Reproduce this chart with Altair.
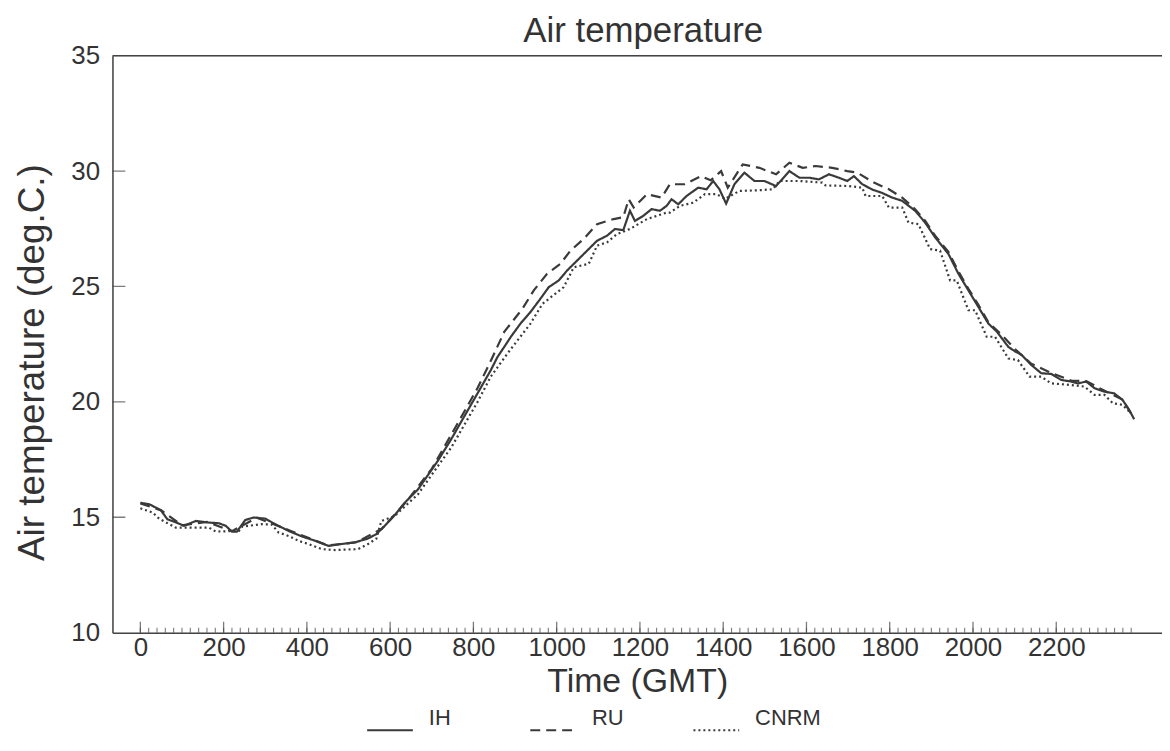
import altair as alt
import pandas as pd

series_names = ["IH", "RU", "CNRM"]

ih_time = [0, 22, 49, 65, 81, 105, 133, 165, 189, 205, 220, 232, 252, 272, 300, 324, 356, 388, 420, 452,
           483, 515, 547, 567, 587, 611, 635, 667, 714, 746, 778, 810, 842, 858, 874, 890, 913, 937, 961, 981,
           1005, 1025, 1049, 1073, 1097, 1121, 1140, 1160, 1176, 1188, 1208, 1228, 1248, 1264, 1276, 1292, 1312,
           1340, 1360, 1376, 1391, 1407, 1427, 1451, 1475, 1499, 1527, 1559, 1583, 1607, 1630, 1654, 1678, 1698,
           1714, 1734, 1758, 1782, 1806, 1830, 1861, 1885, 1909, 1941, 1965, 1989, 2013, 2037, 2057, 2085, 2100,
           2117, 2140, 2164, 2188, 2212, 2236, 2252, 2272, 2292, 2316, 2339, 2359, 2375, 2387]
ih_temp = [15.63, 15.56, 15.31, 14.91, 14.81, 14.63, 14.84, 14.77, 14.74, 14.63, 14.38, 14.38, 14.88, 14.99,
           14.94, 14.70, 14.41, 14.17, 13.98, 13.76, 13.84, 13.91, 14.08, 14.27, 14.63, 15.09, 15.63, 16.21,
           17.43, 18.36, 19.37, 20.37, 21.38, 21.95, 22.38, 22.82, 23.39, 23.89, 24.47, 24.97, 25.26, 25.69,
           26.12, 26.55, 26.98, 27.20, 27.49, 27.44, 28.28, 27.84, 28.06, 28.35, 28.28, 28.49, 28.78, 28.56,
           28.92, 29.28, 29.21, 29.57, 29.21, 28.59, 29.43, 29.93, 29.57, 29.57, 29.35, 30.00, 29.71, 29.71,
           29.64, 29.86, 29.71, 29.57, 29.78, 29.43, 29.20, 29.05, 28.85, 28.71, 28.28, 27.77, 27.13, 26.41,
           25.55, 24.83, 24.11, 23.39, 23.05, 22.38, 22.20, 22.03, 21.60, 21.24, 21.21, 20.95, 20.88, 20.80,
           20.88, 20.59, 20.44, 20.37, 20.09, 19.66, 19.25]

ru_time = [0, 50, 100, 160, 220, 280, 360, 450, 520, 580, 640, 700, 760, 810, 845, 874, 918, 945, 977, 1009,
           1033, 1065, 1097, 1137, 1160, 1173, 1185, 1217, 1252, 1272, 1308, 1347, 1370, 1395, 1411, 1447, 1487,
           1527, 1559, 1591, 1622, 1662, 1698, 1722, 1762, 1798, 1830, 1861, 1885, 1909, 1941, 1965, 1989, 2013,
           2037, 2069, 2100, 2140, 2188, 2236, 2272, 2316, 2359, 2387]
ru_temp = [15.60, 15.30, 14.65, 14.80, 14.40, 14.98, 14.42, 13.78, 13.92, 14.50, 15.70, 17.10, 19.00, 20.60,
           21.90, 23.03, 24.04, 24.83, 25.55, 25.98, 26.55, 27.06, 27.70, 27.92, 28.00, 28.78, 28.42, 29.00,
           28.85, 29.43, 29.43, 29.78, 29.60, 30.00, 29.28, 30.29, 30.14, 29.86, 30.36, 30.14, 30.22, 30.14,
           30.00, 29.93, 29.50, 29.21, 28.85, 28.35, 27.85, 27.20, 26.50, 25.65, 24.90, 24.20, 23.45, 22.90,
           22.30, 21.65, 21.25, 20.92, 20.90, 20.48, 20.10, 19.28]

cnrm_time = [0, 30, 45, 85, 133, 165, 181, 237, 245, 292, 316, 332, 356, 380, 404, 436, 468, 523, 547, 567,
             579, 611, 667, 714, 746, 778, 810, 842, 882, 937, 966, 1017, 1041, 1077, 1097, 1121, 1145, 1176,
             1217, 1264, 1272, 1296, 1328, 1356, 1384, 1405, 1439, 1487, 1519, 1535, 1583, 1638, 1646, 1702,
             1734, 1742, 1782, 1798, 1830, 1845, 1869, 1897, 1921, 1945, 1961, 1989, 2005, 2033, 2053, 2085,
             2108, 2136, 2164, 2188, 2236, 2268, 2292, 2316, 2336, 2359, 2379]
cnrm_temp = [15.39, 15.20, 14.94, 14.55, 14.55, 14.55, 14.38, 14.41, 14.60, 14.70, 14.68, 14.34, 14.19, 13.98,
             13.84, 13.62, 13.58, 13.62, 13.84, 14.08, 14.84, 15.06, 16.00, 17.20, 18.00, 19.00, 20.00, 21.10,
             22.10, 23.39, 24.25, 24.97, 25.83, 25.98, 26.77, 26.91, 27.27, 27.49, 27.92, 28.20, 28.20, 28.49,
             28.63, 29.00, 29.00, 28.80, 29.14, 29.17, 29.21, 29.57, 29.57, 29.50, 29.38, 29.35, 29.28, 28.92,
             28.92, 28.42, 28.42, 27.77, 27.70, 26.62, 26.55, 25.26, 25.26, 23.97, 23.97, 22.82, 22.82, 21.88,
             21.81, 21.09, 21.09, 20.80, 20.73, 20.66, 20.30, 20.30, 19.94, 19.87, 19.51]

x_label_values = [0, 200, 400, 600, 800, 1000, 1200, 1400, 1600, 1800, 2000, 2200]
x_minor_values = list(range(0, 2400, 20))
y_label_values = [10, 15, 20, 25, 30, 35]
y_tick_values = [15, 20, 25, 30]

rows = []
for name, ts, vs in [("IH", ih_time, ih_temp), ("RU", ru_time, ru_temp), ("CNRM", cnrm_time, cnrm_temp)]:
    rows += [{"series": name, "time": t, "temp": v} for t, v in zip(ts, vs)]
df = pd.DataFrame(rows)

FONT = "Liberation Sans"
INK = "#3a3a3a"
X_MIN, X_MAX = -67, 2454

x_scale = alt.Scale(domain=[X_MIN, X_MAX], nice=False, zero=False)
y_scale = alt.Scale(domain=[10, 35], nice=False, zero=False)

x_axis = alt.Axis(
    values=x_label_values, format="d", title="Time (GMT)", ticks=False, grid=False,
    domainColor="#444", domainWidth=1.5, labelFontSize=26, labelPadding=2,
    labelColor="#333", labelFont=FONT, titleFont=FONT, titleFontSize=34,
    titleFontWeight="normal", titleColor="#333", titleY=59, titleBaseline="alphabetic",
    labelFlush=False)
y_axis = alt.Axis(
    values=y_label_values, format="d", title="Air temperature (deg.C.)", ticks=False, grid=False,
    domainColor="#444", domainWidth=1.5, labelFontSize=26, labelPadding=13,
    labelColor="#333", labelFont=FONT, titleFont=FONT, titleFontSize=37,
    titleFontWeight="normal", titleColor="#333", titleX=-80, titleY=308,
    titleAngle=270, titleAlign="center", titleBaseline="middle", labelFlush=False)

lines = alt.Chart(df).mark_line(color=INK, strokeWidth=2.2).encode(
    x=alt.X("time:Q", scale=x_scale, axis=x_axis),
    y=alt.Y("temp:Q", scale=y_scale, axis=y_axis),
    strokeDash=alt.StrokeDash("series:N",
        scale=alt.Scale(domain=series_names, range=[[1, 0], [10, 6], [2, 3]]),
        sort=series_names,
        legend=alt.Legend(title=None, orient="none", direction="horizontal", legendX=255, legendY=654,
                          symbolType="stroke", symbolSize=2116, symbolStrokeWidth=2,
                          symbolStrokeColor=INK, labelFont=FONT, labelFontSize=22, labelColor="#333",
                          labelOffset=15, columnPadding=32, gridAlign="all", labelBaseline="bottom")),
)

major_ticks = alt.Chart(pd.DataFrame({"time": x_label_values})).mark_tick(
    orient="vertical", size=22, thickness=1.3, color="#444", clip=True
).encode(x=alt.X("time:Q", scale=x_scale, axis=x_axis), y=alt.datum(10))

minor_ticks = alt.Chart(pd.DataFrame({"time": x_minor_values})).mark_tick(
    orient="vertical", size=10, thickness=1.1, color="#444", clip=True
).encode(x=alt.X("time:Q", scale=x_scale, axis=x_axis), y=alt.datum(10))

y_ticks = alt.Chart(pd.DataFrame({"temp": y_tick_values})).mark_tick(
    orient="horizontal", size=26, thickness=1.3, color="#444", clip=True
).encode(y=alt.Y("temp:Q", scale=y_scale, axis=y_axis), x=alt.datum(X_MIN))

top_border = alt.Chart(pd.DataFrame({"temp": [35]})).mark_rule(
    color="#444", strokeWidth=1.5
).encode(y=alt.Y("temp:Q", scale=y_scale, axis=y_axis))

chart = alt.layer(lines, major_ticks, minor_ticks, y_ticks, top_border).properties(
    width=1055, height=580,
    title=alt.Title("Air temperature", font=FONT, fontSize=35, fontWeight="normal",
                    color="#333", offset=6, anchor="middle", dy=12, dx=6),
    padding={"left": 105, "top": 46, "right": 0, "bottom": 110},
    autosize=alt.AutoSizeParams(type="none"),
).configure_view(stroke=None).configure(background="white")

chart.save("out.html", embed_options={"renderer": "svg", "actions": False})
